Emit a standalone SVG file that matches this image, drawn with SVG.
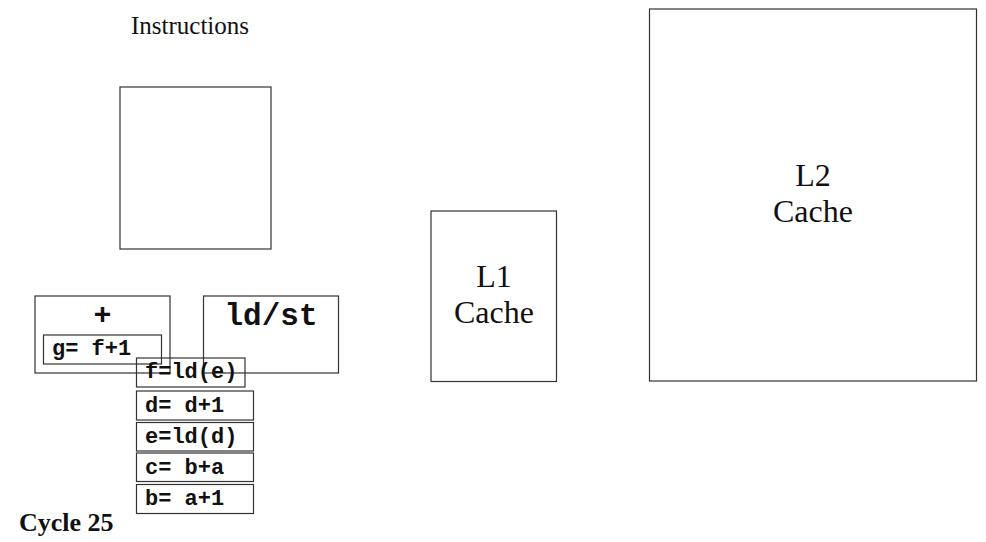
<svg xmlns="http://www.w3.org/2000/svg" width="986" height="542" viewBox="0 0 986 542">
<style>
.box{fill:none;stroke:#333;stroke-width:1.2}
.serif{font-family:"Liberation Serif","DejaVu Serif",serif;fill:#111}
.mono{font-family:"Liberation Mono","DejaVu Sans Mono",monospace;font-weight:bold;fill:#111}
</style>
<rect width="986" height="542" fill="#fff"/>
<g id="instructions">
<text class="serif" x="190" y="34" font-size="25" text-anchor="middle">Instructions</text>
<rect class="box" x="120" y="87" width="151" height="162"/>
</g>
<g id="add-unit">
<rect class="box" x="35" y="296" width="135" height="77"/>
<text class="mono" x="102.5" y="324" font-size="30" text-anchor="middle">+</text>
</g>
<g id="ldst-unit">
<rect class="box" x="203.5" y="296" width="135" height="77"/>
<text class="mono" x="271" y="325" font-size="31" text-anchor="middle">ld/st</text>
</g>
<g id="instr-g">
<rect class="box" x="43.5" y="335" width="118" height="29"/>
<text class="mono" x="52" y="355" font-size="22">g= f+1</text>
</g>
<g id="instr-f">
<rect class="box" x="136.5" y="358" width="108.5" height="29"/>
<text class="mono" x="145" y="378" font-size="22">f=ld(e)</text>
</g>
<g id="instr-d">
<rect class="box" x="136.5" y="391" width="117" height="29"/>
<text class="mono" x="145" y="412" font-size="22">d= d+1</text>
</g>
<g id="instr-e">
<rect class="box" x="136.5" y="422.5" width="117" height="28.5"/>
<text class="mono" x="145" y="443" font-size="22">e=ld(d)</text>
</g>
<g id="instr-c">
<rect class="box" x="136.5" y="453" width="117" height="28.5"/>
<text class="mono" x="145" y="474" font-size="22">c= b+a</text>
</g>
<g id="instr-b">
<rect class="box" x="136.5" y="484.5" width="117" height="29"/>
<text class="mono" x="145" y="505" font-size="22">b= a+1</text>
</g>
<g id="l1-cache">
<rect class="box" x="431" y="211" width="125.5" height="170.5"/>
<text class="serif" x="494" y="287" font-size="32" text-anchor="middle">L1</text>
<text class="serif" x="494" y="323" font-size="32" text-anchor="middle">Cache</text>
</g>
<g id="l2-cache">
<rect class="box" x="649.5" y="9" width="327" height="372"/>
<text class="serif" x="813" y="186" font-size="32" text-anchor="middle">L2</text>
<text class="serif" x="813" y="222" font-size="32" text-anchor="middle">Cache</text>
</g>
<g id="cycle-label">
<text class="serif" x="19" y="531" font-size="26" font-weight="bold">Cycle 25</text>
</g>
<g id="connectors"></g>
</svg>
